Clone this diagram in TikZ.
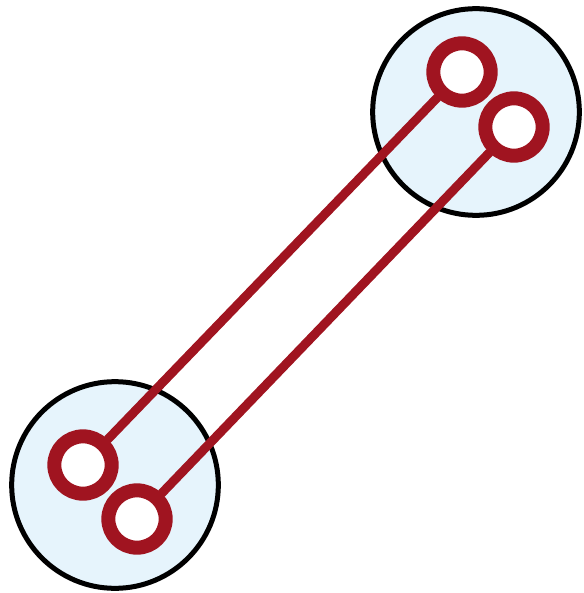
\documentclass[tikz,border=0pt]{standalone}
\usepackage{tikz}
\usetikzlibrary{positioning}

\definecolor{padblue}{HTML}{E6F4FC}
\definecolor{wirered}{HTML}{A01420}

\begin{document}
\begin{tikzpicture}[
  x=0.03cm, y=-0.03cm,
  padcircle/.style={circle, draw=black, fill=padblue, line width=0.15cm,
                    inner sep=0pt, minimum size=6.2cm},
  ringnode/.style={circle, draw=wirered, fill=white, line width=0.42cm,
                   inner sep=0pt, minimum size=1.72cm},
  wire/.style={wirered, line width=0.27cm, line cap=round},
]
\useasboundingbox (0,0) rectangle (583,593);

% --- Two round pads ---
\node[padcircle] (padlow) at (115,485) {};
\node[padcircle] (padhigh) at (476,112) {};

% --- Rings on each pad ---
\node[ringnode] (lowa) at (83,465) {};
\node[ringnode] (lowb) at (137,519) {};
\node[ringnode] (higha) at (462,72) {};
\node[ringnode] (highb) at (514,127) {};

% --- Wires between the rings ---
\draw[wire] (lowa) -- (higha);
\draw[wire] (lowb) -- (highb);

\end{tikzpicture}
\end{document}
